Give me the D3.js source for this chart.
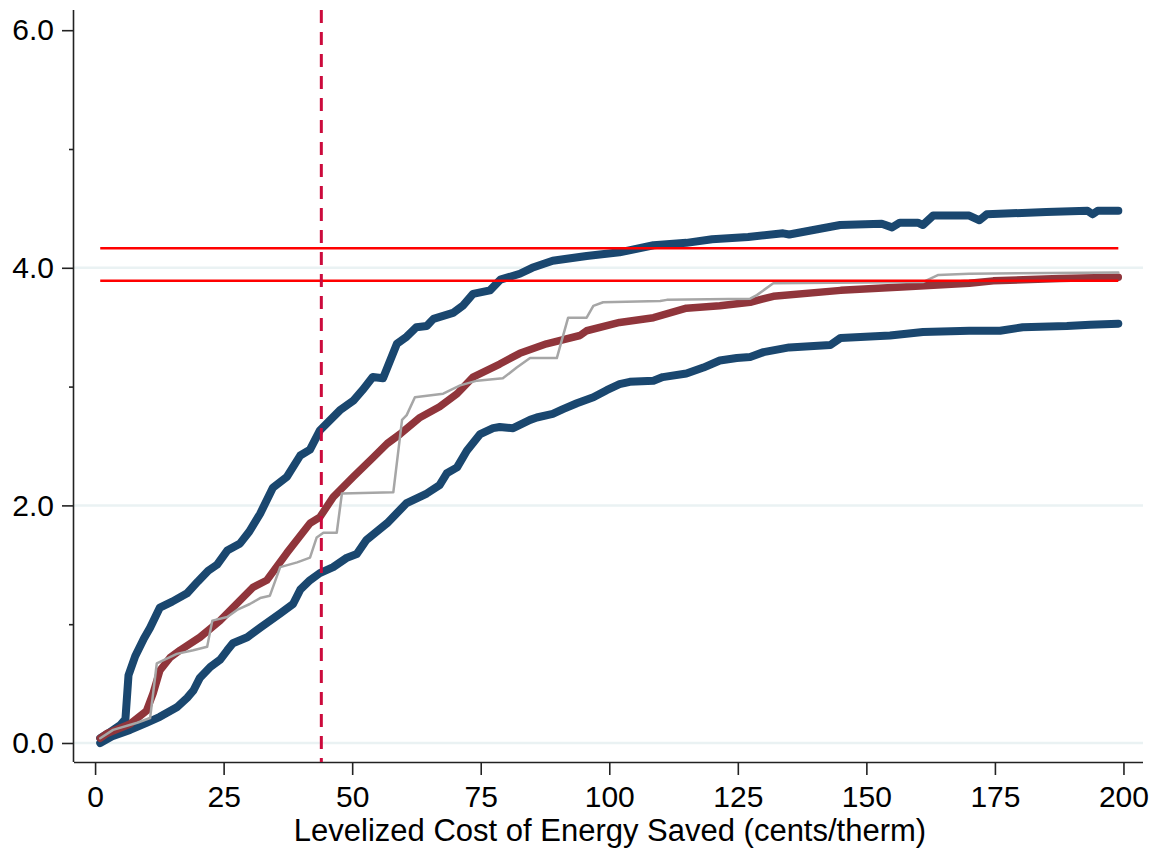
<!DOCTYPE html>
<html>
<head>
<meta charset="utf-8">
<script src="https://cdn.jsdelivr.net/npm/d3@7"></script>
<style>
  body { margin: 0; background: #fff; }
  text { font-family: "Liberation Sans", Arial, sans-serif; fill: #000; }
</style>
</head>
<body>
<svg id="chart"></svg>
<script>
// series: [cost (cents/therm), cumulative savings]
var upperBand = [[1,0.04],[2.5,0.08],[4.9,0.15],[5.9,0.2],[6.5,0.57],[7.8,0.73],[9.5,0.88],[10.7,0.97],[12.6,1.14],[15,1.19],[17.9,1.26],[20,1.36],[22,1.45],[23.7,1.5],[25.7,1.62],[28.2,1.68],[30,1.78],[32.1,1.93],[34.6,2.15],[37.3,2.24],[39.9,2.42],[41.8,2.47],[43.7,2.63],[47.6,2.8],[50.2,2.88],[52,2.97],[54,3.08],[56,3.07],[58.7,3.36],[60.6,3.42],[62.5,3.5],[64.5,3.51],[65.8,3.57],[69.6,3.62],[71.5,3.68],[73.5,3.78],[76.8,3.81],[78.8,3.9],[82.6,3.95],[85,4.0],[89,4.06],[95.6,4.1],[102,4.13],[108.6,4.19],[115,4.21],[120,4.24],[127,4.26],[133.8,4.29],[135,4.28],[144.9,4.36],[153,4.37],[155,4.34],[156.5,4.38],[160,4.38],[161,4.36],[163,4.44],[170,4.44],[172,4.4],[173.4,4.45],[185,4.47],[193,4.48],[194,4.45],[195,4.48],[199,4.48]];
var lowerBand = [[1,0.0],[3.5,0.06],[6.8,0.11],[10,0.17],[12.6,0.22],[15.9,0.3],[17.9,0.38],[19.1,0.44],[20.4,0.55],[22.4,0.64],[24.3,0.7],[25.7,0.78],[26.8,0.84],[29.6,0.89],[32.1,0.97],[36,1.09],[38.5,1.17],[39.9,1.29],[41.8,1.37],[43.7,1.43],[46.3,1.48],[49,1.56],[50.9,1.59],[52.8,1.71],[56.8,1.85],[60.6,2.02],[64.5,2.1],[67,2.17],[68.4,2.27],[70.4,2.32],[72.3,2.46],[74.9,2.6],[77.4,2.65],[78.7,2.66],[81.3,2.65],[84.6,2.72],[85.9,2.74],[89,2.77],[91,2.81],[93.7,2.86],[96.9,2.91],[99.5,2.97],[102,3.02],[104,3.04],[108.6,3.05],[110.4,3.08],[115,3.11],[118.3,3.16],[121.5,3.22],[124.8,3.24],[127.4,3.25],[130,3.29],[135,3.33],[143,3.35],[145,3.41],[154.6,3.43],[161,3.46],[170,3.47],[176,3.47],[180.4,3.5],[189,3.51],[193.5,3.52],[199,3.53]];
var meanCurve = [[1,0.04],[2.3,0.08],[6.8,0.16],[10,0.27],[11.3,0.42],[12.6,0.61],[14.6,0.72],[16.5,0.78],[20.4,0.89],[24.3,1.03],[28.2,1.2],[30.7,1.31],[33.4,1.37],[37.3,1.6],[41.8,1.85],[43.7,1.9],[46.3,2.07],[50.2,2.24],[54,2.4],[56.8,2.52],[59.3,2.6],[63.2,2.74],[67,2.83],[70.4,2.94],[73.5,3.08],[78.7,3.19],[82.6,3.28],[87.8,3.36],[94.3,3.43],[95.6,3.47],[102,3.54],[108.6,3.58],[115,3.66],[121.5,3.68],[127.4,3.71],[131.9,3.76],[145,3.81],[157.8,3.84],[170,3.87],[174.7,3.89],[187.6,3.91],[199,3.92]];
var pointCurve = [[1,0.04],[3.5,0.11],[8.2,0.17],[10.7,0.21],[12,0.67],[15.9,0.75],[19.1,0.78],[21.8,0.81],[22.8,1.03],[25.7,1.06],[27.6,1.12],[30.1,1.17],[32.1,1.22],[34,1.24],[36,1.48],[39.3,1.52],[41.8,1.56],[43.1,1.73],[44.4,1.77],[47,1.77],[48,2.1],[58,2.11],[59.7,2.72],[60.6,2.76],[62.2,2.91],[67.7,2.94],[71,3.01],[74.3,3.05],[79.3,3.07],[82,3.16],[84.6,3.24],[89.8,3.24],[92,3.58],[95.6,3.58],[96.9,3.68],[98.8,3.71],[109.9,3.72],[111.2,3.73],[127.4,3.74],[128.7,3.77],[131.9,3.87],[161,3.88],[164,3.94],[170,3.95],[199,3.96]];

var hLines = [4.165, 3.89];
var vLine = 44;
var xTicks = [0, 25, 50, 75, 100, 125, 150, 175, 200];
var yTicks = [0, 2, 4, 6];
var yMinor = [1, 3, 5];
var gridVals = [0, 2, 4];

var W = 1157, H = 848;
var svg = d3.select("#chart").attr("width", W).attr("height", H);

var x = d3.scaleLinear().domain([-4.1, 203.8]).range([74, 1143]);
var y = d3.scaleLinear().domain([-0.16, 6.17]).range([762, 10]);

// grid
svg.append("g").selectAll("line").data(gridVals).enter().append("line")
  .attr("x1", x.range()[0]).attr("x2", x.range()[1])
  .attr("y1", d => y(d)).attr("y2", d => y(d))
  .attr("stroke", "#eaf2f3").attr("stroke-width", 2.5);

// axes
var xAxis = svg.append("g").attr("transform", "translate(0,762)")
  .call(d3.axisBottom(x).tickValues(xTicks).tickSize(13).tickPadding(11).tickFormat(d3.format("d")));
var yAxis = svg.append("g").attr("transform", "translate(74,0)")
  .call(d3.axisLeft(y).tickValues(yTicks).tickSize(12).tickPadding(8).tickFormat(d3.format(".1f")));
svg.append("g").attr("transform", "translate(74,0)")
  .call(d3.axisLeft(y).tickValues(yMinor).tickSize(5).tickFormat(""))
  .select(".domain").remove();

svg.selectAll(".domain").attr("stroke", "#222").attr("stroke-width", 1.6)
svg.selectAll(".tick line").attr("stroke", "#222").attr("stroke-width", 1.6);
xAxis.select(".domain").attr("d", "M74,0.5H1143");
yAxis.select(".domain").attr("d", "M-0.5,10V762");
svg.selectAll(".tick text").style("font-size", "30px").attr("fill", "#000")
  .style("font-family", '"Liberation Sans", Arial, sans-serif');

svg.append("text").attr("x", 610).attr("y", 841).attr("text-anchor", "middle")
  .style("font-size", "31px").text("Levelized Cost of Energy Saved (cents/therm)");

var line = d3.line().x(d => x(d[0])).y(d => y(d[1]));

function draw(data, color, width) {
  svg.append("path").datum(data).attr("d", line)
    .attr("fill", "none").attr("stroke", color).attr("stroke-width", width)
    .attr("stroke-linejoin", "round").attr("stroke-linecap", "round");
}
draw(lowerBand, "#1a476f", 8);
draw(upperBand, "#1a476f", 8);
draw(meanCurve, "#90353b", 7.5);
draw(pointCurve, "#a6a6a6", 2.5);

// reference lines
svg.append("g").selectAll("line").data(hLines).enter().append("line")
  .attr("x1", x(1)).attr("x2", x(199))
  .attr("y1", d => y(d)).attr("y2", d => y(d))
  .attr("stroke", "#ff0000").attr("stroke-width", 2.5);

svg.append("line")
  .attr("x1", x(vLine)).attr("x2", x(vLine)).attr("y1", 10).attr("y2", 762)
  .attr("stroke", "#cc0a3c").attr("stroke-width", 3).attr("stroke-dasharray", "13,9");
</script>
</body>
</html>
